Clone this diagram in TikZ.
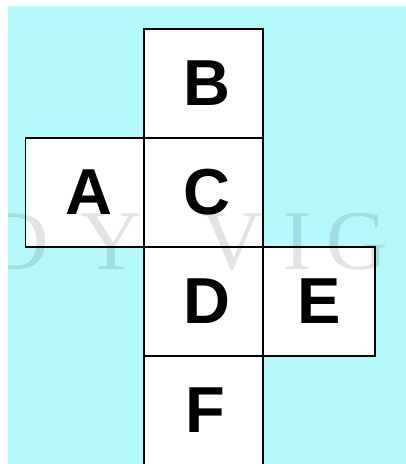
\documentclass[tikz,border=0pt]{standalone}
\usepackage{fontspec}
\setmainfont{Liberation Sans}
\newfontfamily\wmfont{Liberation Serif}
\definecolor{bgcyan}{RGB}{180,250,252}
\begin{document}
\begin{tikzpicture}[x=1pt,y=-1pt,
  facebox/.style={draw=black,fill=white,line width=1.8pt,minimum width=119pt,minimum height=109pt,inner sep=0pt,
    font=\fontsize{65}{65}\selectfont\bfseries},
  wm/.style={anchor=base,inner sep=0pt,text=black,text opacity=0.11,font=\wmfont\fontsize{85}{85}\selectfont}]
\clip (0,0) rectangle (406,464);
\useasboundingbox (0,0) rectangle (406,464);
\fill[white] (0,0) rectangle (406,464);
\fill[bgcyan] (8,6) rectangle (406,464);
\node[facebox] (b) at (203.5,83.5) {\kern6pt B};
\node[facebox] (a) at (85,192.5) {\kern8pt A};
\node[facebox] (c) at (203.5,192.5) {\kern6pt C};
\node[facebox] (d) at (203.5,301.5) {\kern6pt D};
\node[facebox,minimum width=112pt] (e) at (319,301.5) {E};
\node[facebox] (f) at (203.5,410.5) {\kern3pt F};
\begin{scope}
\clip (8,6) rectangle (406,464);
\node[wm] (w1) at (18,269) {D};
\node[wm] (w2) at (111,269) {Y};
\node[wm] (w3) at (232,269) {V};
\node[wm] (w4) at (298,269) {I};
\node[wm] (w5) at (357,269) {G};
\end{scope}
\end{tikzpicture}
\end{document}
